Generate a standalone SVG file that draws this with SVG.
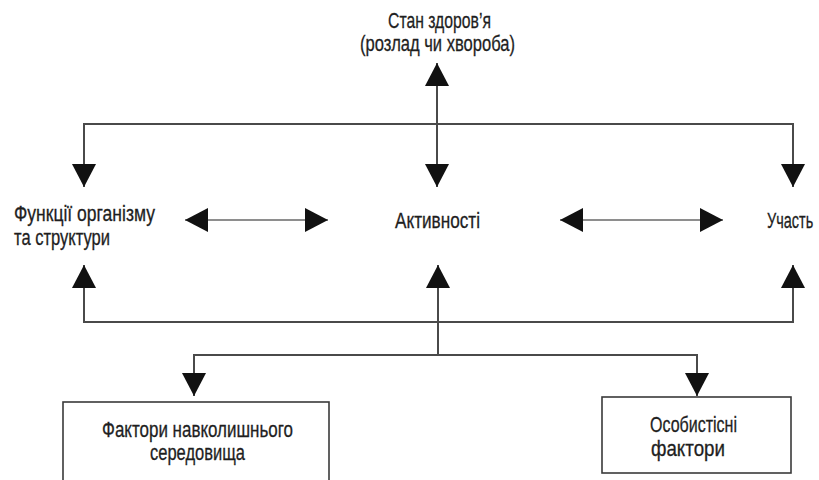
<svg xmlns="http://www.w3.org/2000/svg" width="819" height="480" viewBox="0 0 819 480">
<defs>
<style>
text{font-family:"Liberation Sans","Noto Sans",sans-serif;font-size:22px;fill:#1e1e1e;stroke:#1e1e1e;stroke-width:0.3}
.ln{fill:none;stroke:#4a4a4a;stroke-width:2}
.lt{fill:none;stroke:#8e8e8e;stroke-width:2.2}
.box{fill:#fff;stroke:#3a3a3a;stroke-width:1.6}
</style>
<marker id="ah" viewBox="0 0 23 24" refX="23" refY="12" markerWidth="23" markerHeight="24" markerUnits="userSpaceOnUse" orient="auto-start-reverse">
<path d="M0,0 L23,12 L0,24 z" fill="#111"/>
</marker>
</defs>
<g id="connectors">
<line class="ln" x1="437" y1="63" x2="437" y2="187" marker-start="url(#ah)" marker-end="url(#ah)"/>
<polyline class="ln" points="84,187 84,124 793,124 793,187" marker-start="url(#ah)" marker-end="url(#ah)"/>
<polyline class="ln" points="84,265 84,322 793,322 793,265" marker-start="url(#ah)" marker-end="url(#ah)"/>
<line class="ln" x1="438" y1="265" x2="438" y2="355" marker-start="url(#ah)"/>
<polyline class="ln" points="194,396 194,355 697,355 697,396" marker-start="url(#ah)" marker-end="url(#ah)"/>
<line class="lt" x1="185" y1="220" x2="328" y2="220" marker-start="url(#ah)" marker-end="url(#ah)"/>
<line class="lt" x1="560" y1="220" x2="723" y2="220" marker-start="url(#ah)" marker-end="url(#ah)"/>
</g>
<g id="health">
<text x="388" y="28" textLength="103" lengthAdjust="spacingAndGlyphs">Стан здоров’я</text>
<text x="360" y="51" textLength="155" lengthAdjust="spacingAndGlyphs">(розлад чи хвороба)</text>
</g>
<g id="functions">
<text x="14" y="221" textLength="141" lengthAdjust="spacingAndGlyphs">Функції організму</text>
<text x="14" y="245" textLength="96" lengthAdjust="spacingAndGlyphs">та структури</text>
</g>
<g id="activities">
<text x="395" y="228" textLength="85" lengthAdjust="spacingAndGlyphs">Активності</text>
</g>
<g id="participation">
<text transform="translate(767 228) scale(0.67 1)" x="0" y="0" textLength="69" lengthAdjust="spacingAndGlyphs">Участь</text>
</g>
<g id="environment">
<rect class="box" x="63" y="402" width="266" height="90"/>
<text x="102" y="437" textLength="191" lengthAdjust="spacingAndGlyphs">Фактори навколишнього</text>
<text x="150" y="460" textLength="95" lengthAdjust="spacingAndGlyphs">середовища</text>
</g>
<g id="personal">
<rect class="box" x="602" y="397" width="189" height="76"/>
<text x="650" y="432" textLength="87" lengthAdjust="spacingAndGlyphs">Особистісні</text>
<text x="651" y="456" textLength="74" lengthAdjust="spacingAndGlyphs">фактори</text>
</g>
</svg>
